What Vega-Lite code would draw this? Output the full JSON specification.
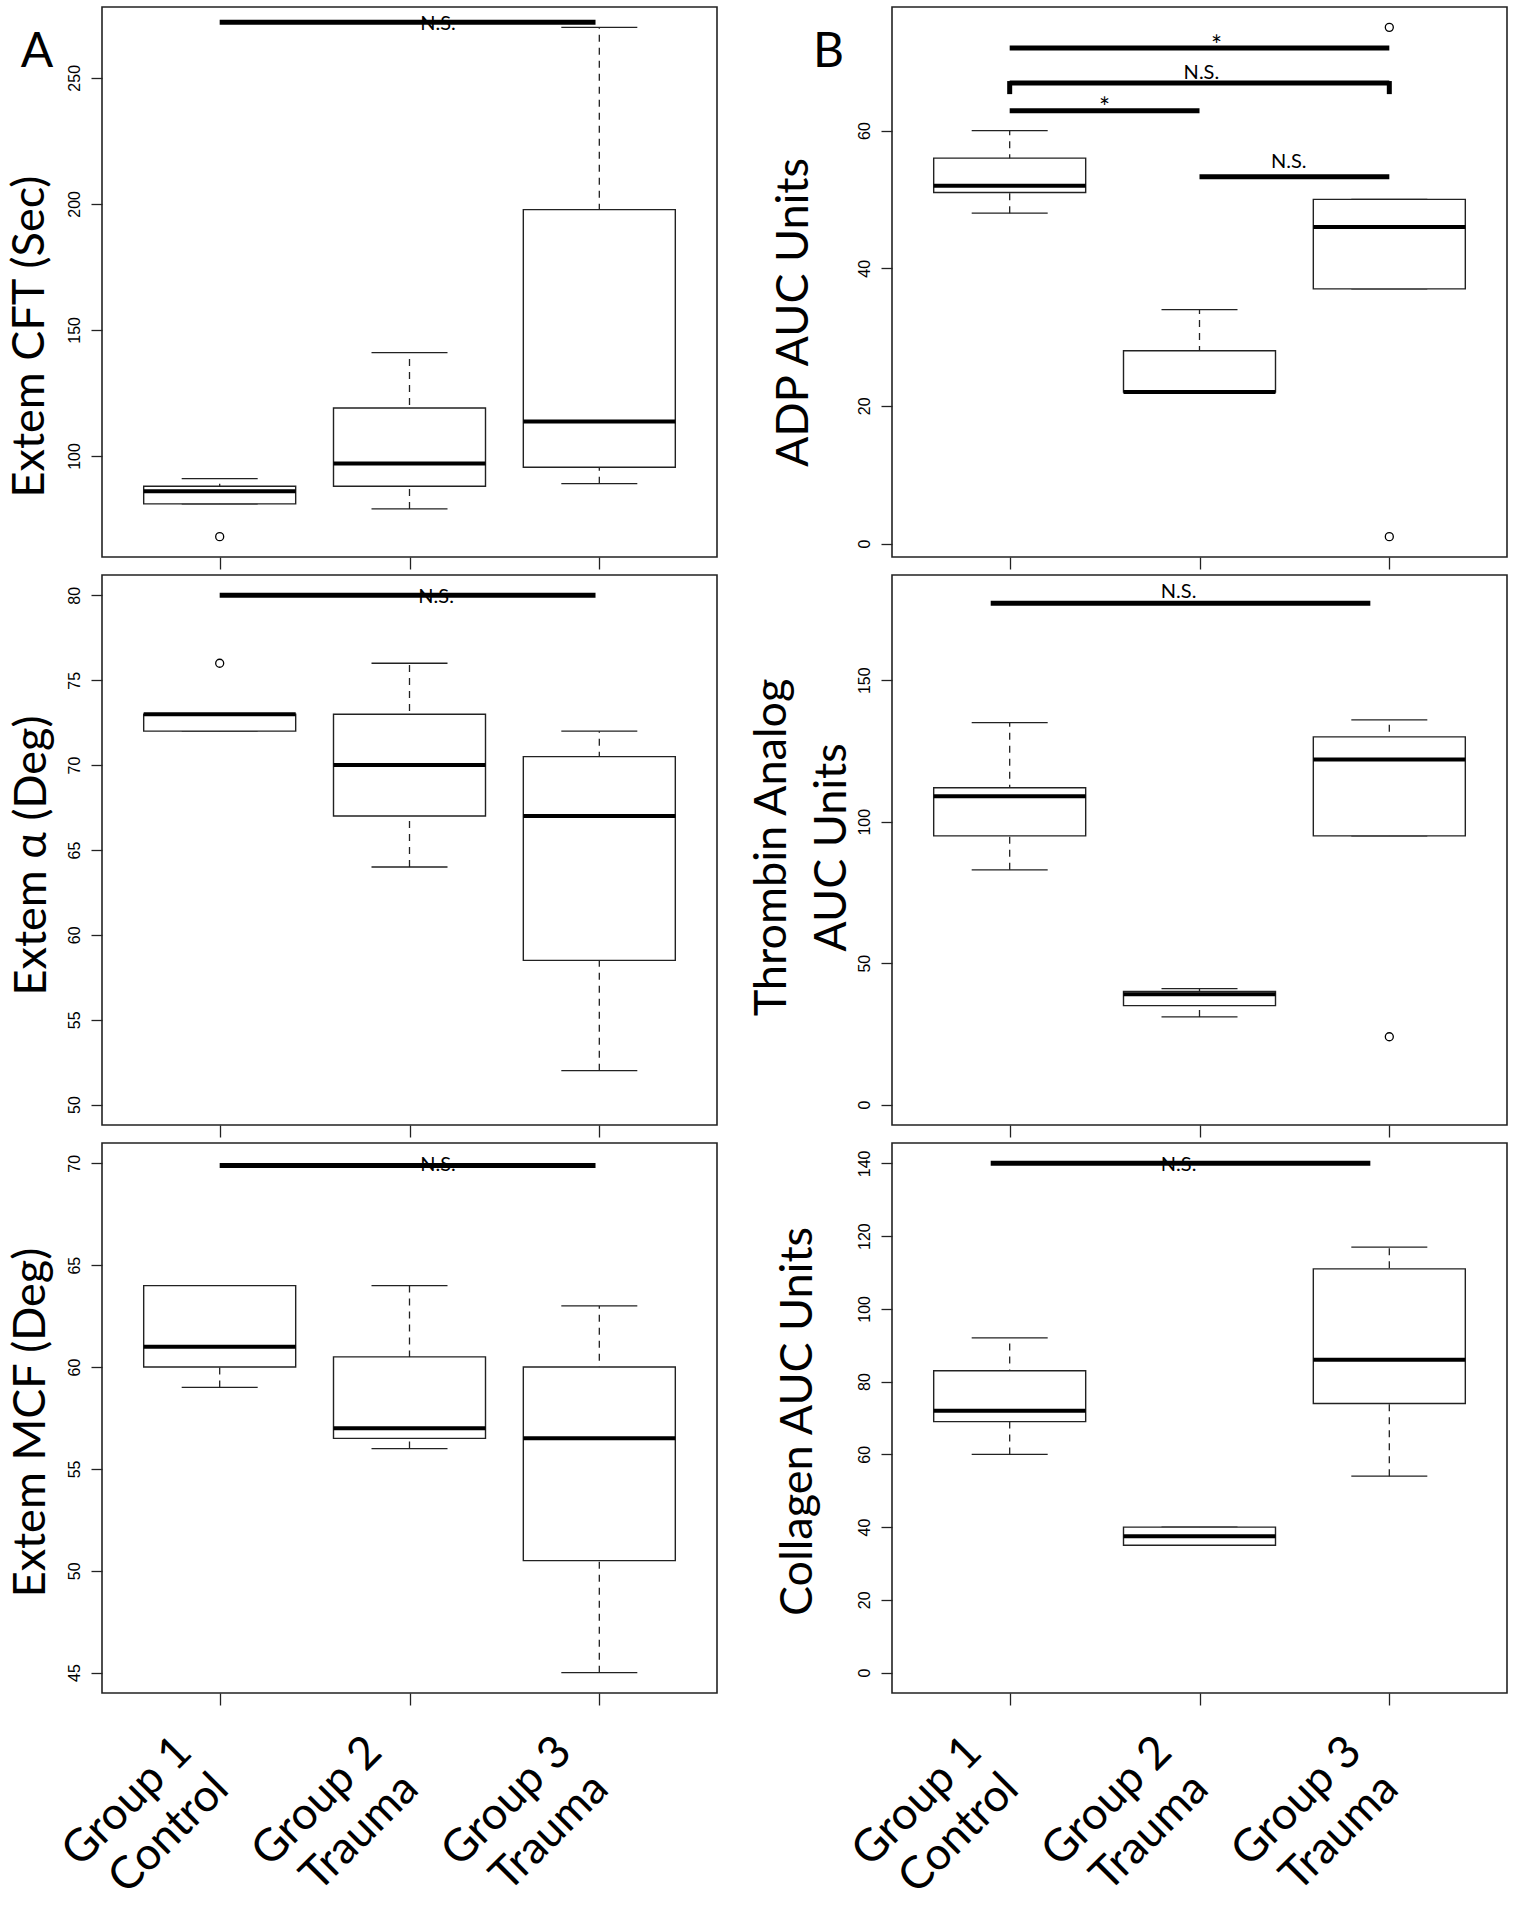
{
  "$schema": "https://vega.github.io/schema/vega-lite/v6.json",
  "background": "white",
  "padding": {"left": 6, "top": 6, "right": 0, "bottom": 0},
  "autosize": {"type": "pad"},
  "columns": 2,
  "spacing": {"row": 18, "column": 175},
  "bounds": "flush",
  "resolve": {"scale": {"x": "independent", "y": "independent"}},
  "config": {
    "view": {"stroke": "#222", "strokeWidth": 1.6},
    "font": "Lato",
    "tick": {"opacity": 1},
    "point": {"opacity": 1},
    "axis": {"domain": false, "grid": false, "tickColor": "#222", "tickWidth": 1.3, "labelColor": "black", "titleColor": "black"}
  },
  "datasets": {
    "boxes": [
      {"p": "A1", "g": 1, "lo": 81, "q1": 81, "med": 86, "q3": 88, "hi": 91},
      {"p": "A1", "g": 2, "lo": 79, "q1": 88, "med": 97, "q3": 119, "hi": 141},
      {"p": "A1", "g": 3, "lo": 89, "q1": 95.5, "med": 113.7, "q3": 197.7, "hi": 270},
      {"p": "B1", "g": 1, "lo": 48, "q1": 51, "med": 52, "q3": 56, "hi": 60},
      {"p": "B1", "g": 2, "lo": 22, "q1": 22, "med": 22, "q3": 28, "hi": 34},
      {"p": "B1", "g": 3, "lo": 37, "q1": 37, "med": 46, "q3": 50, "hi": 50},
      {"p": "A2", "g": 1, "lo": 72, "q1": 72, "med": 73, "q3": 73, "hi": 73},
      {"p": "A2", "g": 2, "lo": 64, "q1": 67, "med": 70, "q3": 73, "hi": 76},
      {"p": "A2", "g": 3, "lo": 52, "q1": 58.5, "med": 67, "q3": 70.5, "hi": 72},
      {"p": "B2", "g": 1, "lo": 83, "q1": 95, "med": 109, "q3": 112, "hi": 135},
      {"p": "B2", "g": 2, "lo": 31, "q1": 35, "med": 39, "q3": 40, "hi": 41},
      {"p": "B2", "g": 3, "lo": 95, "q1": 95, "med": 122, "q3": 130, "hi": 136},
      {"p": "A3", "g": 1, "lo": 59, "q1": 60, "med": 61, "q3": 64, "hi": 64},
      {"p": "A3", "g": 2, "lo": 56, "q1": 56.5, "med": 57, "q3": 60.5, "hi": 64},
      {"p": "A3", "g": 3, "lo": 45, "q1": 50.5, "med": 56.5, "q3": 60, "hi": 63},
      {"p": "B3", "g": 1, "lo": 60, "q1": 69, "med": 72, "q3": 83, "hi": 92},
      {"p": "B3", "g": 2, "lo": 35, "q1": 35, "med": 37.5, "q3": 40, "hi": 40},
      {"p": "B3", "g": 3, "lo": 54, "q1": 74, "med": 86, "q3": 111, "hi": 117}
    ],
    "outliers": [
      {"p": "A1", "g": 1, "v": 68},
      {"p": "B1", "g": 3, "v": 75},
      {"p": "B1", "g": 3, "v": 1},
      {"p": "A2", "g": 1, "v": 76},
      {"p": "B2", "g": 3, "v": 24}
    ],
    "segs": [
      {"p": "A1", "x": 1, "x2": 2.98, "y": 272, "y2": 272},
      {"p": "B1", "x": 1, "x2": 3, "y": 72, "y2": 72},
      {"p": "B1", "x": 1, "x2": 3, "y": 66.9, "y2": 66.9},
      {"p": "B1", "x": 1, "x2": 1, "y": 65.3, "y2": 67.2},
      {"p": "B1", "x": 3, "x2": 3, "y": 65.3, "y2": 67.2},
      {"p": "B1", "x": 1, "x2": 2, "y": 62.9, "y2": 62.9},
      {"p": "B1", "x": 2, "x2": 3, "y": 53.3, "y2": 53.3},
      {"p": "A2", "x": 1, "x2": 2.98, "y": 80, "y2": 80},
      {"p": "B2", "x": 0.9, "x2": 2.9, "y": 177.2, "y2": 177.2},
      {"p": "A3", "x": 1, "x2": 2.98, "y": 69.9, "y2": 69.9},
      {"p": "B3", "x": 0.9, "x2": 2.9, "y": 140, "y2": 140}
    ],
    "texts": [
      {"p": "A1", "x": 2.15, "y": 271.3, "t": "N.S."},
      {"p": "B1", "x": 2.09, "y": 72.2, "t": "*"},
      {"p": "B1", "x": 2.01, "y": 68.3, "t": "N.S."},
      {"p": "B1", "x": 1.5, "y": 63.1, "t": "*"},
      {"p": "B1", "x": 2.47, "y": 55.5, "t": "N.S."},
      {"p": "A2", "x": 2.14, "y": 79.9, "t": "N.S."},
      {"p": "B2", "x": 1.89, "y": 181.3, "t": "N.S."},
      {"p": "A3", "x": 2.15, "y": 69.9, "t": "N.S."},
      {"p": "B3", "x": 1.89, "y": 139.5, "t": "N.S."}
    ],
    "letters": [
      {"p": "A1", "x": 0.038, "y": 259.7, "t": "A"},
      {"p": "B1", "x": 0.045, "y": 71.3, "t": "B"}
    ]
  },
  "concat": [
    {
      "width": 615, "height": 550,
      "layer": [
        {"data": {"name": "boxes"}, "transform": [{"filter": "datum.p == 'A1'"}],
         "mark": {"type": "rule", "strokeDash": [7, 6], "strokeWidth": 1.3, "color": "#222"},
         "encoding": {
           "x": {"field": "g", "type": "quantitative", "scale": {"domain": [0.38, 3.62], "nice": false, "zero": false, "padding": 0},
                 "axis": {"values": [1, 2, 3], "labels": false, "tickSize": 12, "title": null}},
           "y": {"field": "lo", "type": "quantitative", "scale": {"domain": [59.92, 278.08], "nice": false, "zero": false, "padding": 0},
                 "axis": {"values": [100, 150, 200, 250], "tickSize": 11, "labelAngle": -90, "labelAlign": "center", "labelBaseline": "bottom", "labelFont": "Liberation Sans", "labelFontSize": 16, "labelPadding": 9,
                          "title": "Extem CFT (Sec)", "titleFont": "Lato", "titleFontSize": 45, "titleFontWeight": "normal", "titleAngle": -90, "titleAlign": "center", "titleBaseline": "alphabetic", "titleX": -59, "titleY": 329}},
           "y2": {"field": "hi"}}},
        {"data": {"name": "boxes"}, "transform": [{"filter": "datum.p == 'A1'"}],
         "mark": {"type": "tick", "orient": "horizontal", "size": 76, "thickness": 1.3, "color": "#222"},
         "encoding": {"x": {"field": "g", "type": "quantitative"}, "y": {"field": "lo", "type": "quantitative"}}},
        {"data": {"name": "boxes"}, "transform": [{"filter": "datum.p == 'A1'"}],
         "mark": {"type": "tick", "orient": "horizontal", "size": 76, "thickness": 1.3, "color": "#222"},
         "encoding": {"x": {"field": "g", "type": "quantitative"}, "y": {"field": "hi", "type": "quantitative"}}},
        {"data": {"name": "boxes"}, "transform": [{"filter": "datum.p == 'A1'"}],
         "mark": {"type": "bar", "orient": "vertical", "size": 152, "fill": "white", "stroke": "#222", "strokeWidth": 1.4},
         "encoding": {"x": {"field": "g", "type": "quantitative"}, "y": {"field": "q1", "type": "quantitative"}, "y2": {"field": "q3"}}},
        {"data": {"name": "boxes"}, "transform": [{"filter": "datum.p == 'A1'"}],
         "mark": {"type": "tick", "orient": "horizontal", "size": 152, "thickness": 4, "color": "black"},
         "encoding": {"x": {"field": "g", "type": "quantitative"}, "y": {"field": "med", "type": "quantitative"}}},
        {"data": {"name": "outliers"}, "transform": [{"filter": "datum.p == 'A1'"}],
         "mark": {"type": "point", "shape": "circle", "filled": false, "size": 64, "stroke": "black", "strokeWidth": 1.3},
         "encoding": {"x": {"field": "g", "type": "quantitative"}, "y": {"field": "v", "type": "quantitative"}}},
        {"data": {"name": "segs"}, "transform": [{"filter": "datum.p == 'A1'"}],
         "mark": {"type": "rule", "strokeWidth": 5, "color": "black"},
         "encoding": {"x": {"field": "x", "type": "quantitative"}, "x2": {"field": "x2"}, "y": {"field": "y", "type": "quantitative"}, "y2": {"field": "y2"}}},
        {"data": {"name": "texts"}, "transform": [{"filter": "datum.p == 'A1' && datum.t != '*'"}],
         "mark": {"type": "text", "font": "Lato", "fontSize": 20, "baseline": "middle", "align": "center", "color": "black"},
         "encoding": {"x": {"field": "x", "type": "quantitative"}, "y": {"field": "y", "type": "quantitative"}, "text": {"field": "t"}}},
        {"data": {"name": "letters"}, "transform": [{"filter": "datum.p == 'A1'"}],
         "mark": {"type": "text", "font": "Lato", "fontSize": 48, "baseline": "middle", "align": "center", "color": "black"},
         "encoding": {"x": {"field": "x", "type": "quantitative"}, "y": {"field": "y", "type": "quantitative"}, "text": {"field": "t"}}}
      ]
    },
    {
      "width": 615, "height": 550,
      "layer": [
        {"data": {"name": "boxes"}, "transform": [{"filter": "datum.p == 'B1'"}],
         "mark": {"type": "rule", "strokeDash": [7, 6], "strokeWidth": 1.3, "color": "#222"},
         "encoding": {
           "x": {"field": "g", "type": "quantitative", "scale": {"domain": [0.38, 3.62], "nice": false, "zero": false, "padding": 0},
                 "axis": {"values": [1, 2, 3], "labels": false, "tickSize": 12, "title": null}},
           "y": {"field": "lo", "type": "quantitative", "scale": {"domain": [-1.96, 77.96], "nice": false, "zero": false, "padding": 0},
                 "axis": {"values": [0, 20, 40, 60], "tickSize": 11, "labelAngle": -90, "labelAlign": "center", "labelBaseline": "bottom", "labelFont": "Liberation Sans", "labelFontSize": 16, "labelPadding": 9,
                          "title": "ADP AUC Units", "titleFont": "Lato", "titleFontSize": 45, "titleFontWeight": "normal", "titleAngle": -90, "titleAlign": "center", "titleBaseline": "alphabetic", "titleX": -85, "titleY": 305}},
           "y2": {"field": "hi"}}},
        {"data": {"name": "boxes"}, "transform": [{"filter": "datum.p == 'B1'"}],
         "mark": {"type": "tick", "orient": "horizontal", "size": 76, "thickness": 1.3, "color": "#222"},
         "encoding": {"x": {"field": "g", "type": "quantitative"}, "y": {"field": "lo", "type": "quantitative"}}},
        {"data": {"name": "boxes"}, "transform": [{"filter": "datum.p == 'B1'"}],
         "mark": {"type": "tick", "orient": "horizontal", "size": 76, "thickness": 1.3, "color": "#222"},
         "encoding": {"x": {"field": "g", "type": "quantitative"}, "y": {"field": "hi", "type": "quantitative"}}},
        {"data": {"name": "boxes"}, "transform": [{"filter": "datum.p == 'B1'"}],
         "mark": {"type": "bar", "orient": "vertical", "size": 152, "fill": "white", "stroke": "#222", "strokeWidth": 1.4},
         "encoding": {"x": {"field": "g", "type": "quantitative"}, "y": {"field": "q1", "type": "quantitative"}, "y2": {"field": "q3"}}},
        {"data": {"name": "boxes"}, "transform": [{"filter": "datum.p == 'B1'"}],
         "mark": {"type": "tick", "orient": "horizontal", "size": 152, "thickness": 4, "color": "black"},
         "encoding": {"x": {"field": "g", "type": "quantitative"}, "y": {"field": "med", "type": "quantitative"}}},
        {"data": {"name": "outliers"}, "transform": [{"filter": "datum.p == 'B1'"}],
         "mark": {"type": "point", "shape": "circle", "filled": false, "size": 64, "stroke": "black", "strokeWidth": 1.3},
         "encoding": {"x": {"field": "g", "type": "quantitative"}, "y": {"field": "v", "type": "quantitative"}}},
        {"data": {"name": "segs"}, "transform": [{"filter": "datum.p == 'B1'"}],
         "mark": {"type": "rule", "strokeWidth": 5, "color": "black"},
         "encoding": {"x": {"field": "x", "type": "quantitative"}, "x2": {"field": "x2"}, "y": {"field": "y", "type": "quantitative"}, "y2": {"field": "y2"}}},
        {"data": {"name": "texts"}, "transform": [{"filter": "datum.p == 'B1' && datum.t != '*'"}],
         "mark": {"type": "text", "font": "Lato", "fontSize": 20, "baseline": "middle", "align": "center", "color": "black"},
         "encoding": {"x": {"field": "x", "type": "quantitative"}, "y": {"field": "y", "type": "quantitative"}, "text": {"field": "t"}}},
        {"data": {"name": "texts"}, "transform": [{"filter": "datum.p == 'B1' && datum.t == '*'"}],
         "mark": {"type": "text", "font": "Lato", "fontSize": 26, "baseline": "middle", "align": "center", "color": "black"},
         "encoding": {"x": {"field": "x", "type": "quantitative"}, "y": {"field": "y", "type": "quantitative"}, "text": {"field": "t"}}},
        {"data": {"name": "letters"}, "transform": [{"filter": "datum.p == 'B1'"}],
         "mark": {"type": "text", "font": "Lato", "fontSize": 48, "baseline": "middle", "align": "center", "color": "black"},
         "encoding": {"x": {"field": "x", "type": "quantitative"}, "y": {"field": "y", "type": "quantitative"}, "text": {"field": "t"}}}
      ]
    },
    {
      "width": 615, "height": 550,
      "layer": [
        {"data": {"name": "boxes"}, "transform": [{"filter": "datum.p == 'A2'"}],
         "mark": {"type": "rule", "strokeDash": [7, 6], "strokeWidth": 1.3, "color": "#222"},
         "encoding": {
           "x": {"field": "g", "type": "quantitative", "scale": {"domain": [0.38, 3.62], "nice": false, "zero": false, "padding": 0},
                 "axis": {"values": [1, 2, 3], "labels": false, "tickSize": 12, "title": null}},
           "y": {"field": "lo", "type": "quantitative", "scale": {"domain": [48.8, 81.2], "nice": false, "zero": false, "padding": 0},
                 "axis": {"values": [50, 55, 60, 65, 70, 75, 80], "tickSize": 11, "labelAngle": -90, "labelAlign": "center", "labelBaseline": "bottom", "labelFont": "Liberation Sans", "labelFontSize": 16, "labelPadding": 9,
                          "title": "Extem α (Deg)", "titleFont": "Lato", "titleFontSize": 45, "titleFontWeight": "normal", "titleAngle": -90, "titleAlign": "center", "titleBaseline": "alphabetic", "titleX": -57, "titleY": 280}},
           "y2": {"field": "hi"}}},
        {"data": {"name": "boxes"}, "transform": [{"filter": "datum.p == 'A2'"}],
         "mark": {"type": "tick", "orient": "horizontal", "size": 76, "thickness": 1.3, "color": "#222"},
         "encoding": {"x": {"field": "g", "type": "quantitative"}, "y": {"field": "lo", "type": "quantitative"}}},
        {"data": {"name": "boxes"}, "transform": [{"filter": "datum.p == 'A2'"}],
         "mark": {"type": "tick", "orient": "horizontal", "size": 76, "thickness": 1.3, "color": "#222"},
         "encoding": {"x": {"field": "g", "type": "quantitative"}, "y": {"field": "hi", "type": "quantitative"}}},
        {"data": {"name": "boxes"}, "transform": [{"filter": "datum.p == 'A2'"}],
         "mark": {"type": "bar", "orient": "vertical", "size": 152, "fill": "white", "stroke": "#222", "strokeWidth": 1.4},
         "encoding": {"x": {"field": "g", "type": "quantitative"}, "y": {"field": "q1", "type": "quantitative"}, "y2": {"field": "q3"}}},
        {"data": {"name": "boxes"}, "transform": [{"filter": "datum.p == 'A2'"}],
         "mark": {"type": "tick", "orient": "horizontal", "size": 152, "thickness": 4, "color": "black"},
         "encoding": {"x": {"field": "g", "type": "quantitative"}, "y": {"field": "med", "type": "quantitative"}}},
        {"data": {"name": "outliers"}, "transform": [{"filter": "datum.p == 'A2'"}],
         "mark": {"type": "point", "shape": "circle", "filled": false, "size": 64, "stroke": "black", "strokeWidth": 1.3},
         "encoding": {"x": {"field": "g", "type": "quantitative"}, "y": {"field": "v", "type": "quantitative"}}},
        {"data": {"name": "segs"}, "transform": [{"filter": "datum.p == 'A2'"}],
         "mark": {"type": "rule", "strokeWidth": 5, "color": "black"},
         "encoding": {"x": {"field": "x", "type": "quantitative"}, "x2": {"field": "x2"}, "y": {"field": "y", "type": "quantitative"}, "y2": {"field": "y2"}}},
        {"data": {"name": "texts"}, "transform": [{"filter": "datum.p == 'A2'"}],
         "mark": {"type": "text", "font": "Lato", "fontSize": 20, "baseline": "middle", "align": "center", "color": "black"},
         "encoding": {"x": {"field": "x", "type": "quantitative"}, "y": {"field": "y", "type": "quantitative"}, "text": {"field": "t"}}}
      ]
    },
    {
      "width": 615, "height": 550,
      "layer": [
        {"data": {"name": "boxes"}, "transform": [{"filter": "datum.p == 'B2'"}],
         "mark": {"type": "rule", "strokeDash": [7, 6], "strokeWidth": 1.3, "color": "#222"},
         "encoding": {
           "x": {"field": "g", "type": "quantitative", "scale": {"domain": [0.38, 3.62], "nice": false, "zero": false, "padding": 0},
                 "axis": {"values": [1, 2, 3], "labels": false, "tickSize": 12, "title": null}},
           "y": {"field": "lo", "type": "quantitative", "scale": {"domain": [-7.2, 187.2], "nice": false, "zero": false, "padding": 0},
                 "axis": {"values": [0, 50, 100, 150], "tickSize": 11, "labelAngle": -90, "labelAlign": "center", "labelBaseline": "bottom", "labelFont": "Liberation Sans", "labelFontSize": 16, "labelPadding": 9,
                          "title": ["Thrombin Analog", "AUC Units"], "titleFont": "Lato", "titleFontSize": 45, "titleFontWeight": "normal", "titleAngle": -90, "titleAlign": "center", "titleBaseline": "alphabetic", "titleLineHeight": 60, "titleX": -107, "titleY": 272}},
           "y2": {"field": "hi"}}},
        {"data": {"name": "boxes"}, "transform": [{"filter": "datum.p == 'B2'"}],
         "mark": {"type": "tick", "orient": "horizontal", "size": 76, "thickness": 1.3, "color": "#222"},
         "encoding": {"x": {"field": "g", "type": "quantitative"}, "y": {"field": "lo", "type": "quantitative"}}},
        {"data": {"name": "boxes"}, "transform": [{"filter": "datum.p == 'B2'"}],
         "mark": {"type": "tick", "orient": "horizontal", "size": 76, "thickness": 1.3, "color": "#222"},
         "encoding": {"x": {"field": "g", "type": "quantitative"}, "y": {"field": "hi", "type": "quantitative"}}},
        {"data": {"name": "boxes"}, "transform": [{"filter": "datum.p == 'B2'"}],
         "mark": {"type": "bar", "orient": "vertical", "size": 152, "fill": "white", "stroke": "#222", "strokeWidth": 1.4},
         "encoding": {"x": {"field": "g", "type": "quantitative"}, "y": {"field": "q1", "type": "quantitative"}, "y2": {"field": "q3"}}},
        {"data": {"name": "boxes"}, "transform": [{"filter": "datum.p == 'B2'"}],
         "mark": {"type": "tick", "orient": "horizontal", "size": 152, "thickness": 4, "color": "black"},
         "encoding": {"x": {"field": "g", "type": "quantitative"}, "y": {"field": "med", "type": "quantitative"}}},
        {"data": {"name": "outliers"}, "transform": [{"filter": "datum.p == 'B2'"}],
         "mark": {"type": "point", "shape": "circle", "filled": false, "size": 64, "stroke": "black", "strokeWidth": 1.3},
         "encoding": {"x": {"field": "g", "type": "quantitative"}, "y": {"field": "v", "type": "quantitative"}}},
        {"data": {"name": "segs"}, "transform": [{"filter": "datum.p == 'B2'"}],
         "mark": {"type": "rule", "strokeWidth": 5, "color": "black"},
         "encoding": {"x": {"field": "x", "type": "quantitative"}, "x2": {"field": "x2"}, "y": {"field": "y", "type": "quantitative"}, "y2": {"field": "y2"}}},
        {"data": {"name": "texts"}, "transform": [{"filter": "datum.p == 'B2'"}],
         "mark": {"type": "text", "font": "Lato", "fontSize": 20, "baseline": "middle", "align": "center", "color": "black"},
         "encoding": {"x": {"field": "x", "type": "quantitative"}, "y": {"field": "y", "type": "quantitative"}, "text": {"field": "t"}}}
      ]
    },
    {
      "width": 615, "height": 550,
      "layer": [
        {"data": {"name": "boxes"}, "transform": [{"filter": "datum.p == 'A3'"}],
         "mark": {"type": "rule", "strokeDash": [7, 6], "strokeWidth": 1.3, "color": "#222"},
         "encoding": {
           "x": {"field": "g", "type": "quantitative", "scale": {"domain": [0.38, 3.62], "nice": false, "zero": false, "padding": 0},
                 "axis": {"values": [1, 2, 3], "tickSize": 12, "title": null, "labelExpr": "datum.value == 1 ? ['Group 1', 'Control'] : datum.value == 2 ? ['Group 2', 'Trauma'] : ['Group 3', 'Trauma']",
                          "labelAngle": -45, "labelAlign": "right", "labelBaseline": "middle", "labelFont": "Lato", "labelFontSize": 45, "labelLineHeight": 52, "labelPadding": 39, "labelOffset": -36, "labelOverlap": false, "labelBound": false, "labelFlush": false}},
           "y": {"field": "lo", "type": "quantitative", "scale": {"domain": [44, 71], "nice": false, "zero": false, "padding": 0},
                 "axis": {"values": [45, 50, 55, 60, 65, 70], "tickSize": 11, "labelAngle": -90, "labelAlign": "center", "labelBaseline": "bottom", "labelFont": "Liberation Sans", "labelFontSize": 16, "labelPadding": 9,
                          "title": "Extem MCF (Deg)", "titleFont": "Lato", "titleFontSize": 45, "titleFontWeight": "normal", "titleAngle": -90, "titleAlign": "center", "titleBaseline": "alphabetic", "titleX": -58, "titleY": 279}},
           "y2": {"field": "hi"}}},
        {"data": {"name": "boxes"}, "transform": [{"filter": "datum.p == 'A3'"}],
         "mark": {"type": "tick", "orient": "horizontal", "size": 76, "thickness": 1.3, "color": "#222"},
         "encoding": {"x": {"field": "g", "type": "quantitative"}, "y": {"field": "lo", "type": "quantitative"}}},
        {"data": {"name": "boxes"}, "transform": [{"filter": "datum.p == 'A3'"}],
         "mark": {"type": "tick", "orient": "horizontal", "size": 76, "thickness": 1.3, "color": "#222"},
         "encoding": {"x": {"field": "g", "type": "quantitative"}, "y": {"field": "hi", "type": "quantitative"}}},
        {"data": {"name": "boxes"}, "transform": [{"filter": "datum.p == 'A3'"}],
         "mark": {"type": "bar", "orient": "vertical", "size": 152, "fill": "white", "stroke": "#222", "strokeWidth": 1.4},
         "encoding": {"x": {"field": "g", "type": "quantitative"}, "y": {"field": "q1", "type": "quantitative"}, "y2": {"field": "q3"}}},
        {"data": {"name": "boxes"}, "transform": [{"filter": "datum.p == 'A3'"}],
         "mark": {"type": "tick", "orient": "horizontal", "size": 152, "thickness": 4, "color": "black"},
         "encoding": {"x": {"field": "g", "type": "quantitative"}, "y": {"field": "med", "type": "quantitative"}}},
        {"data": {"name": "segs"}, "transform": [{"filter": "datum.p == 'A3'"}],
         "mark": {"type": "rule", "strokeWidth": 5, "color": "black"},
         "encoding": {"x": {"field": "x", "type": "quantitative"}, "x2": {"field": "x2"}, "y": {"field": "y", "type": "quantitative"}, "y2": {"field": "y2"}}},
        {"data": {"name": "texts"}, "transform": [{"filter": "datum.p == 'A3'"}],
         "mark": {"type": "text", "font": "Lato", "fontSize": 20, "baseline": "middle", "align": "center", "color": "black"},
         "encoding": {"x": {"field": "x", "type": "quantitative"}, "y": {"field": "y", "type": "quantitative"}, "text": {"field": "t"}}}
      ]
    },
    {
      "width": 615, "height": 550,
      "layer": [
        {"data": {"name": "boxes"}, "transform": [{"filter": "datum.p == 'B3'"}],
         "mark": {"type": "rule", "strokeDash": [7, 6], "strokeWidth": 1.3, "color": "#222"},
         "encoding": {
           "x": {"field": "g", "type": "quantitative", "scale": {"domain": [0.38, 3.62], "nice": false, "zero": false, "padding": 0},
                 "axis": {"values": [1, 2, 3], "tickSize": 12, "title": null, "labelExpr": "datum.value == 1 ? ['Group 1', 'Control'] : datum.value == 2 ? ['Group 2', 'Trauma'] : ['Group 3', 'Trauma']",
                          "labelAngle": -45, "labelAlign": "right", "labelBaseline": "middle", "labelFont": "Lato", "labelFontSize": 45, "labelLineHeight": 52, "labelPadding": 39, "labelOffset": -36, "labelOverlap": false, "labelBound": false, "labelFlush": false}},
           "y": {"field": "lo", "type": "quantitative", "scale": {"domain": [-5.6, 145.6], "nice": false, "zero": false, "padding": 0},
                 "axis": {"values": [0, 20, 40, 60, 80, 100, 120, 140], "tickSize": 11, "labelAngle": -90, "labelAlign": "center", "labelBaseline": "bottom", "labelFont": "Liberation Sans", "labelFontSize": 16, "labelPadding": 9,
                          "title": "Collagen AUC Units", "titleFont": "Lato", "titleFontSize": 45, "titleFontWeight": "normal", "titleAngle": -90, "titleAlign": "center", "titleBaseline": "alphabetic", "titleX": -81, "titleY": 278}},
           "y2": {"field": "hi"}}},
        {"data": {"name": "boxes"}, "transform": [{"filter": "datum.p == 'B3'"}],
         "mark": {"type": "tick", "orient": "horizontal", "size": 76, "thickness": 1.3, "color": "#222"},
         "encoding": {"x": {"field": "g", "type": "quantitative"}, "y": {"field": "lo", "type": "quantitative"}}},
        {"data": {"name": "boxes"}, "transform": [{"filter": "datum.p == 'B3'"}],
         "mark": {"type": "tick", "orient": "horizontal", "size": 76, "thickness": 1.3, "color": "#222"},
         "encoding": {"x": {"field": "g", "type": "quantitative"}, "y": {"field": "hi", "type": "quantitative"}}},
        {"data": {"name": "boxes"}, "transform": [{"filter": "datum.p == 'B3'"}],
         "mark": {"type": "bar", "orient": "vertical", "size": 152, "fill": "white", "stroke": "#222", "strokeWidth": 1.4},
         "encoding": {"x": {"field": "g", "type": "quantitative"}, "y": {"field": "q1", "type": "quantitative"}, "y2": {"field": "q3"}}},
        {"data": {"name": "boxes"}, "transform": [{"filter": "datum.p == 'B3'"}],
         "mark": {"type": "tick", "orient": "horizontal", "size": 152, "thickness": 4, "color": "black"},
         "encoding": {"x": {"field": "g", "type": "quantitative"}, "y": {"field": "med", "type": "quantitative"}}},
        {"data": {"name": "segs"}, "transform": [{"filter": "datum.p == 'B3'"}],
         "mark": {"type": "rule", "strokeWidth": 5, "color": "black"},
         "encoding": {"x": {"field": "x", "type": "quantitative"}, "x2": {"field": "x2"}, "y": {"field": "y", "type": "quantitative"}, "y2": {"field": "y2"}}},
        {"data": {"name": "texts"}, "transform": [{"filter": "datum.p == 'B3'"}],
         "mark": {"type": "text", "font": "Lato", "fontSize": 20, "baseline": "middle", "align": "center", "color": "black"},
         "encoding": {"x": {"field": "x", "type": "quantitative"}, "y": {"field": "y", "type": "quantitative"}, "text": {"field": "t"}}}
      ]
    }
  ]
}
